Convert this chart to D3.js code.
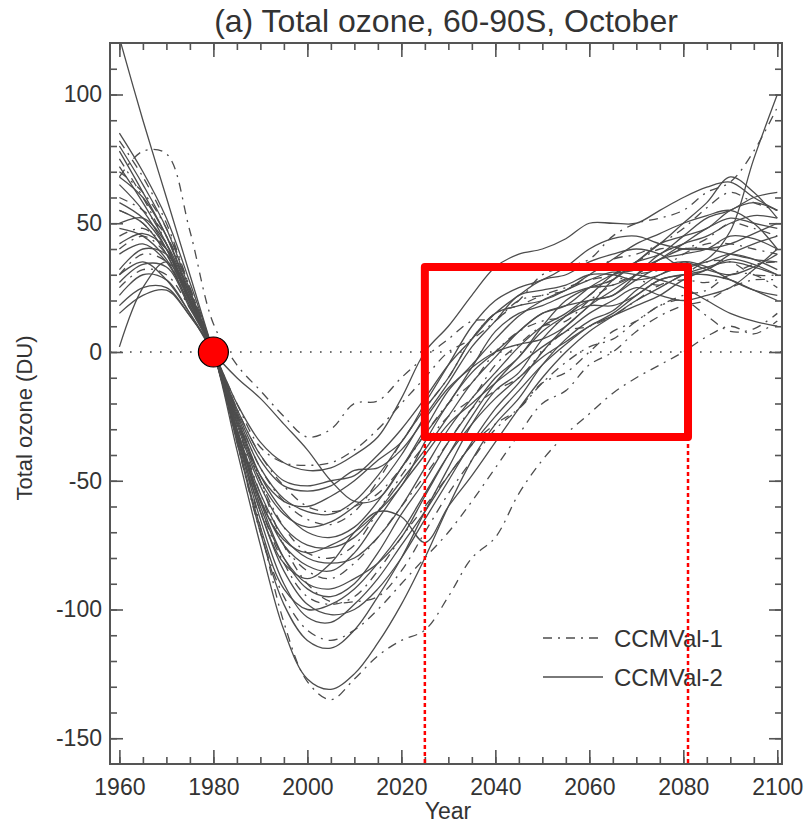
<!DOCTYPE html>
<html><head><meta charset="utf-8">
<script src="https://cdn.jsdelivr.net/npm/d3@7"></script>
<style>
body{margin:0;background:#fff}
svg text{font-family:"Liberation Sans",Arial,Helvetica,sans-serif;fill:#333}
</style>
</head><body>
<svg id="chart" width="810" height="826"></svg>
<script>
// ---------------- data ----------------
const years = [1960,1965,1970,1975,1980,1985,1990,1995,2000,2005,2010,2015,2020,2025,2030,
               2035,2040,2045,2050,2055,2060,2065,2070,2075,2080,2085,2090,2095,2100];
const xMajorTicks = [1960,1980,2000,2020,2040,2060,2080,2100];
const yMajorTicks = [-150,-100,-50,0,50,100];
const legendLabels = ["CCMVal-1","CCMVal-2"];
const titleText = "(a) Total ozone, 60-90S, October";
const xLabel = "Year";
const yLabel = "Total ozone (DU)";
const recoveryWindow = [2025, 2081];     // years
const recoveryBand = [-33, 33];          // DU
const referencePoint = [1980, 0];

// CCMVal-1 (dash-dot)
const d1  = [68,78,77,47,11,-5,-15,-25,-33,-30,-20,-19,-10,-2,5, 12,13,20,30,33,36,45,50,52,55,62,66,78,95];
const d2  = [75,60,42,20,0,-30,-68,-105,-128,-135,-127,-118,-112,-108,-95, -80,-72,-55,-42,-32,-24,-16,-10,-5,0,6,10,7,12];
const d3v = [82,68,50,25,0,-35,-70,-95,-108,-112,-108,-100,-90,-80,-70, -58,-45,-32,-20,-15,-5,0,8,14,18,20,25,28,28];
const d4  = [40,45,38,20,0,-25,-50,-75,-90,-97,-97,-95,-85,-70,-55, -42,-30,-22,-12,-8,0,8,12,18,20,14,8,9,15];
const d5  = [30,38,35,18,0,-22,-40,-52,-60,-62,-60,-55,-45,-32,-20, -12,0,8,12,14,22,28,28,26,30,35,35,30,30];
const d6  = [55,50,38,20,0,-20,-37,-43,-44,-43,-38,-30,-20,-10,0, 5,12,20,22,24,30,36,38,42,48,56,62,58,55];
const d7  = [70,62,48,25,0,-28,-55,-75,-85,-88,-82,-72,-60,-48,-35, -22,-15,-10,0,8,10,14,20,26,28,27,30,34,35];
const d8  = [25,32,30,17,0,-30,-60,-82,-95,-98,-95,-85,-72,-60,-48, -36,-28,-22,-12,-4,2,5,12,18,22,24,30,30,25];
const d9  = [60,55,45,24,0,-24,-45,-58,-65,-67,-62,-50,-35,-22,-10, 5,15,18,22,25,28,30,35,40,40,44,50,48,45];
const d10 = [45,48,40,22,0,-26,-50,-68,-78,-80,-75,-62,-48,-36,-25, -18,-5,3,10,12,20,26,30,32,38,42,42,40,38];

// CCMVal-2 (solid)
const s1  = [122,90,60,30,0,-30,-58,-80,-92,-95,-90,-78,-63,-50,-35, -22,-10,-2,10,20,25,28,35,42,45,48,55,58,55];
const s2  = [2,25,35,20,0,-25,-48,-62,-70,-72,-68,-58,-45,-32,-20, -6,8,15,18,22,25,26,30,36,38,40,45,44,40];
const s3  = [78,62,45,22,0,-38,-75,-108,-127,-131,-125,-113,-98,-80,-60, -42,-28,-18,-5,5,12,16,24,30,33,35,38,36,32];
const s4  = [72,58,42,20,0,-35,-70,-98,-112,-115,-108,-95,-80,-62,-45, -28,-15,-8,5,14,20,22,30,38,42,45,50,53,52];
const s5  = [85,70,52,27,0,-32,-62,-85,-98,-102,-100,-92,-80,-65,-50, -35,-22,-12,0,10,18,28,35,42,50,58,68,62,52];
const s6  = [65,55,40,20,0,-30,-60,-80,-90,-92,-88,-82,-72,-56,-40, -25,-12,-2,8,14,18,18,22,28,30,30,28,24,20];
const s7  = [30,35,28,15,0,-10,-18,-28,-38,-50,-58,-57,-45,-30,-15, -5,5,14,20,24,28,31,30,28,25,20,15,12,10];
const s8  = [50,52,42,22,0,-32,-62,-82,-88,-82,-70,-62,-64,-74,-60, -48,-35,-22,-10,0,8,14,20,25,30,33,35,33,30];
const s9  = [58,52,40,20,0,-28,-52,-68,-75,-76,-72,-62,-50,-38,-25, -12,-2,8,15,18,25,30,32,36,40,40,38,36,35];
const s10 = [22,30,28,15,0,-20,-35,-43,-46,-45,-40,-33,-18,0,10, 22,33,38,40,44,50,50,50,55,60,64,66,60,55];
const s11 = [18,25,25,14,0,-22,-40,-50,-52,-50,-48,-40,-30,-18,-5, 5,15,22,28,30,35,38,40,38,33,36,47,75,100];
const s12 = [48,45,36,18,0,-30,-55,-72,-80,-82,-80,-72,-60,-45,-30, -18,-8,2,10,15,22,30,35,38,45,52,55,60,62];
const s13 = [38,42,35,18,0,-27,-50,-63,-68,-66,-60,-52,-40,-25,-12, 2,12,22,24,26,30,30,28,30,35,33,28,24,22];
const s14 = [80,65,48,24,0,-33,-65,-90,-103,-105,-98,-88,-75,-62,-48, -36,-25,-15,-5,3,10,15,22,28,30,32,38,42,45];
const s15 = [32,40,38,20,0,-26,-48,-58,-60,-56,-50,-42,-35,-20,-5, 10,20,25,28,33,40,44,45,42,40,40,42,46,50];
const s16 = [68,60,45,23,0,-30,-57,-75,-83,-85,-78,-65,-52,-40,-28, -20,-12,-5,2,8,15,20,25,22,20,22,25,32,40];
const s17 = [15,22,24,14,0,-24,-45,-57,-62,-63,-58,-48,-35,-22,-10, 5,15,18,20,24,30,36,42,46,50,53,55,50,40];
const s18 = [55,50,38,19,0,-34,-68,-92,-100,-98,-92,-82,-70,-55,-40, -28,-18,-10,-2,4,10,14,18,22,28,32,36,34,30];
const s19 = [27,34,33,17,0,-23,-42,-52,-54,-52,-46,-45,-38,-26,-14, -6,0,3,5,10,18,24,30,36,42,48,52,50,48];
const s20 = [42,46,40,21,0,-31,-58,-73,-78,-75,-70,-62,-52,-35,-20, -8,0,8,15,18,20,22,28,33,35,32,30,33,38];

const ccmval1 = [d1,d2,d3v,d4,d5,d6,d7,d8,d9,d10];
const ccmval2 = [s1,s2,s3,s4,s5,s6,s7,s8,s9,s10,s11,s12,s13,s14,s15,s16,s17,s18,s19,s20];

// ---------------- chart ----------------
const svg = d3.select("#chart");
const L = 110, R = 782, T = 43, B = 764;
const x = d3.scaleLinear().domain([1958, 2101]).range([L, R]);
const y = d3.scaleLinear().domain([-160, 120]).range([B, T]);

const axisColor = "#555";
const lineColor = "#4d4d4d";
const DASHDOT = "9,6,2,6";
const fmt = d => String(d);   // plain hyphen-minus like the original

svg.append("defs").append("clipPath").attr("id","plotclip")
  .append("rect").attr("x",L).attr("y",T).attr("width",R-L).attr("height",B-T);

// title
svg.append("text").attr("x", 446).attr("y", 32).attr("text-anchor","middle")
  .style("font-size","32px").text(titleText);

// zero line
svg.append("line").attr("x1",L).attr("x2",R).attr("y1",y(0)).attr("y2",y(0))
  .attr("stroke","#444").attr("stroke-width",1.6).attr("stroke-dasharray","1.6,8.4");

// series
const line = d3.line().x((d,i)=>x(years[i])).y(d=>y(d)).curve(d3.curveCatmullRom.alpha(0.5));
const g = svg.append("g").attr("clip-path","url(#plotclip)");
g.selectAll("path.s2").data(ccmval2).join("path").attr("class","s2")
  .attr("d", line).attr("fill","none").attr("stroke",lineColor).attr("stroke-width",1.3);
g.selectAll("path.s1").data(ccmval1).join("path").attr("class","s1")
  .attr("d", line).attr("fill","none").attr("stroke",lineColor).attr("stroke-width",1.3)
  .attr("stroke-dasharray",DASHDOT);

// axes with inward ticks
function addAxis(axisGen, tx, ty, showLabels){
  const a = svg.append("g").attr("transform",`translate(${tx},${ty})`).call(axisGen);
  a.select(".domain").remove();
  a.selectAll(".tick line").attr("stroke",axisColor).attr("stroke-width",1.6);
  a.selectAll(".tick text").style("font-size","23px").attr("fill","#333");
  if(!showLabels) a.selectAll(".tick text").remove();
  return a;
}
const xMinor = [1960,1965,1970,1975,1980,1985,1990,1995,2000,2005,2010,2015,2020,2025,2030,2035,2040,2045,2050,2055,2060,2065,2070,2075,2080,2085,2090,2095,2100];
const yMinor = d3.range(-150, 111, 10);
addAxis(d3.axisBottom(x).tickValues(xMinor).tickSize(-7).tickFormat(""), 0, B, false);
addAxis(d3.axisBottom(x).tickValues(xMajorTicks).tickSize(-14).tickPadding(15).tickFormat(fmt), 0, B, true);
addAxis(d3.axisTop(x).tickValues(xMinor).tickSize(-7).tickFormat(""), 0, T, false);
addAxis(d3.axisTop(x).tickValues(xMajorTicks).tickSize(-14).tickFormat(""), 0, T, false);
addAxis(d3.axisLeft(y).tickValues(yMinor).tickSize(-7).tickFormat(""), L, 0, false);
addAxis(d3.axisLeft(y).tickValues(yMajorTicks).tickSize(-13).tickPadding(8).tickFormat(fmt), L, 0, true);
addAxis(d3.axisRight(y).tickValues(yMinor).tickSize(-7).tickFormat(""), R, 0, false);
addAxis(d3.axisRight(y).tickValues(yMajorTicks).tickSize(-13).tickFormat(""), R, 0, false);

// frame
svg.append("rect").attr("x",L).attr("y",T).attr("width",R-L).attr("height",B-T)
  .attr("fill","none").attr("stroke",axisColor).attr("stroke-width",2);

// axis labels
svg.append("text").attr("x",448).attr("y",819).attr("text-anchor","middle")
  .style("font-size","23px").text(xLabel);
svg.append("text").attr("transform",`translate(32,418) rotate(-90)`)
  .attr("text-anchor","middle").style("font-size","22px").text(yLabel);

// legend
const legY = [638, 677];
legendLabels.forEach((lab,i)=>{
  svg.append("line").attr("x1",543).attr("x2",603).attr("y1",legY[i]).attr("y2",legY[i])
    .attr("stroke",lineColor).attr("stroke-width",1.5)
    .attr("stroke-dasharray", i===0 ? DASHDOT : null);
  svg.append("text").attr("x",614).attr("y",legY[i]).attr("dy","0.36em")
    .style("font-size","24px").text(lab);
});

// red annotations
recoveryWindow.forEach(yr=>{
  svg.append("line").attr("x1",x(yr)).attr("x2",x(yr)).attr("y1",y(recoveryBand[0])).attr("y2",B)
    .attr("stroke","#ff0000").attr("stroke-width",2.5).attr("stroke-dasharray","4,3");
});
svg.append("rect").attr("x",x(recoveryWindow[0])).attr("y",y(recoveryBand[1]))
  .attr("width",x(recoveryWindow[1])-x(recoveryWindow[0]))
  .attr("height",y(recoveryBand[0])-y(recoveryBand[1]))
  .attr("fill","none").attr("stroke","#ff0000").attr("stroke-width",8).attr("stroke-linejoin","round");
svg.append("circle").attr("cx",x(referencePoint[0])).attr("cy",y(referencePoint[1])).attr("r",15)
  .attr("fill","#ff0000").attr("stroke","#000").attr("stroke-width",1.2);
</script>
</body></html>
